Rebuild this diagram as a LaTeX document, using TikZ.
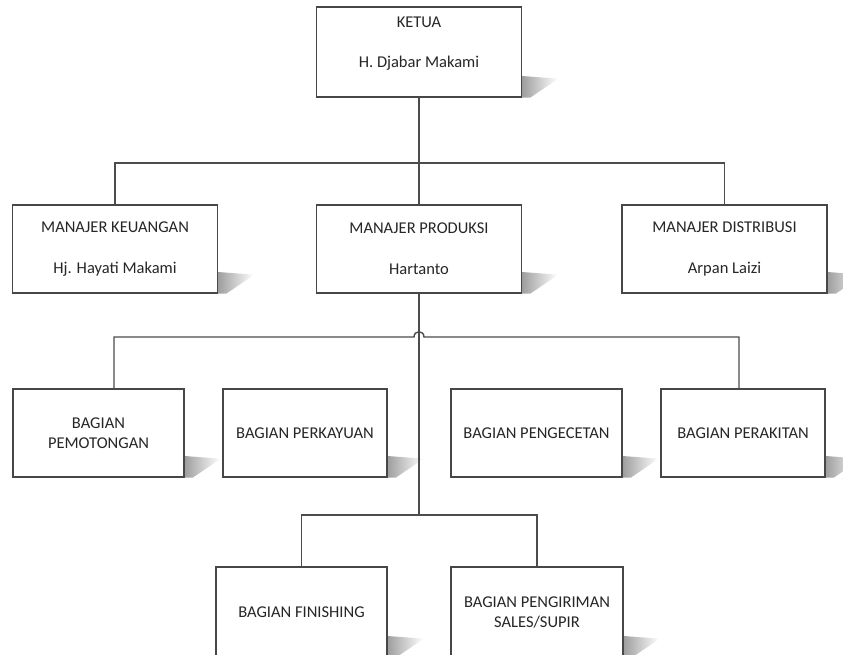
\documentclass[tikz,border=0pt]{standalone}
\usepackage{fontspec}
\setmainfont{Carlito}
\usetikzlibrary{positioning,backgrounds,calc}

\tikzset{
  box/.style={draw=black!72, line width=1.4pt, fill=white, align=center, inner sep=0pt, text=black!85},
  wide box/.style={box, minimum width=205pt, minimum height=88pt, font=\fontsize{16.5}{41}\selectfont},
  unit box/.style={box, minimum height=88pt, font=\fontsize{16.5}{20}\selectfont},
  link/.style={draw=black!70, line width=1.4pt},
  shadow fill/.style={left color=black!42, right color=white},
}

\begin{document}
\begin{tikzpicture}[x=1pt,y=-1pt]
  \useasboundingbox (0,0) rectangle (843,654);

  % Define boxes by coordinates
  \node[wide box, minimum height=90pt] (ketua) at (419,52) {};
  \node[font=\fontsize{16.5}{40}\selectfont, align=center, text=black!85] (ketuaT) at (419,44) {KETUA\\H. Djabar Makami};

  \node[wide box] (mk) at (115,249) {MANAJER KEUANGAN\\Hj. Hayati Makami};
  \node[wide box] (mp) at (419,249) {MANAJER PRODUKSI\\Hartanto};
  \node[wide box] (md) at (724.5,249) {MANAJER DISTRIBUSI\\Arpan Laizi};

  \node[unit box, minimum width=171pt] (pot) at (98.5,433) {BAGIAN\\PEMOTONGAN};
  \node[unit box, minimum width=164pt] (kayu) at (305,433) {BAGIAN PERKAYUAN};
  \node[unit box, minimum width=171pt] (cetak) at (536.5,433) {BAGIAN PENGECETAN};
  \node[unit box, minimum width=164pt] (rakit) at (743,433) {BAGIAN PERAKITAN};

  \node[unit box, minimum width=171pt, minimum height=90pt] (finish) at (301.5,612) {BAGIAN FINISHING};
  \node[unit box, minimum width=172pt, minimum height=90pt] (kirim) at (537,612) {BAGIAN PENGIRIMAN\\SALES/SUPIR};

  % Junctions
  \coordinate (j1) at (419,163);
  \coordinate (j2) at (419,337);
  \coordinate (j3) at (419,515);
  \coordinate (h1) at (114,337);
  \coordinate (h4) at (739,337);

  % Draw connectors
  \draw[link] (ketua.south) -- (j1);
  \draw[link] (mk.north) |- (j1) -| (md.north);
  \draw[link] (j1) -- (mp.north);
  \draw[link] (mp.south) -- (j3);
  \draw[link] (h1 |- pot.north) -- (h1) -- ($(j2)+(-5,0)$)
    .. controls ($(j2)+(-5,-7)$) and ($(j2)+(5,-7)$) .. ($(j2)+(5,0)$)
    -- (h4) -- (h4 |- rakit.north);
  \draw[link] (finish.north) |- (j3) -| (kirim.north);

  % Shadows behind the boxes
  \begin{scope}[on background layer]
    \foreach \n in {ketua,mk,mp,md,pot,kayu,cetak,rakit,finish,kirim}
      \shade[shadow fill] (\n.south east) ++(-4,-22) -- ++(40,3) -- ++(-28,19) -- ++(-12,0) -- cycle;
  \end{scope}
\end{tikzpicture}
\end{document}
